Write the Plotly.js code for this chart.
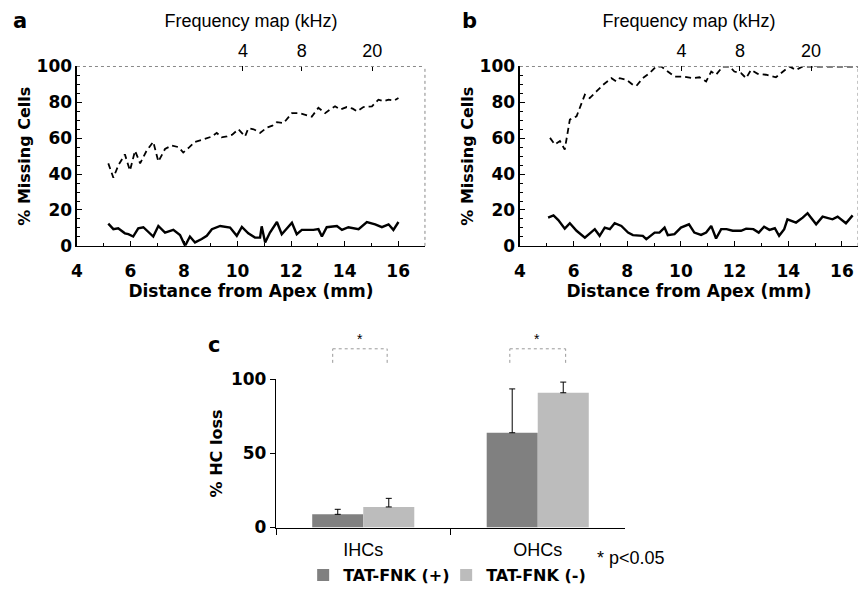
<!DOCTYPE html>
<html>
<head>
<meta charset="utf-8">
<script src="https://cdn.plot.ly/plotly-3.0.1.min.js"></script>
<style>html,body{margin:0;padding:0;background:#fff;}#chart{width:858px;height:592px;}</style>
</head>
<body>
<div id="chart"></div>
<script>
// ---- Panel a data (distance from apex, mm ; % missing cells)
const aDashX = [5.17,5.36,5.55,5.79,5.98,6.17,6.36,6.6,6.85,7.04,7.29,7.54,7.8,7.97,8.2,8.41,8.65,8.85,9.05,9.22,9.4,9.6,9.8,10.03,10.28,10.4,10.6,10.84,11.1,11.3,11.47,11.72,12.03,12.3,12.5,12.77,13.02,13.27,13.45,13.64,13.83,14.08,14.3,14.46,14.7,15.02,15.26,15.45,15.64,15.85,16.01];
const aDashY = [46,38,45,51,42,53,46,53,58,47,54,56,55,52,55,58,59,60,61,63,60.5,61,62,65,61,65.5,65,63,66,67,69,68.5,74,74,73,72,77,74,76,77.8,76,77.4,76.5,75,77.4,77.8,81.5,80.6,81.5,81,82.4];
const aSolX = [5.17,5.36,5.54,5.79,5.92,6.10,6.29,6.48,6.85,7.04,7.29,7.60,7.85,8.04,8.22,8.41,8.66,8.85,9.04,9.35,9.72,9.97,10.16,10.40,10.65,10.84,10.90,11.03,11.21,11.47,11.65,12.03,12.21,12.40,12.83,13.02,13.15,13.33,13.71,13.90,14.14,14.52,14.83,15.14,15.39,15.64,15.82,16.01];
const aSolY = [12.4,9.3,9.8,7.0,6.5,5.2,9.8,10.4,5.2,11.1,7.4,8.9,6.0,0,5.2,1.9,3.8,5.6,9.3,11.1,10.2,5.6,10.6,7.0,4.6,4.6,10.9,1.9,7.4,13.3,6.5,12.9,6.5,8.9,8.9,9.3,5.2,10.4,11.1,8.9,10.4,9.3,13.3,12.0,10.4,12,8.9,13.3];
// ---- Panel b data
const bDashX = [5.12,5.30,5.49,5.67,5.86,6.11,6.42,6.60,6.85,7.10,7.41,7.59,7.72,7.97,8.21,8.34,8.58,8.83,9.08,9.27,9.51,9.76,10.07,10.44,10.69,10.94,11.13,11.31,11.56,11.81,11.99,12.24,12.43,12.61,12.86,13.17,13.54,13.79,14.04,14.29,14.54,14.90,15.3,15.7,16.1,16.6];
const bDashY = [60.2,56.5,58.4,53.7,70.4,72.2,84.3,82.4,86.1,89.8,93.5,91.7,93.5,92.6,89.8,89.2,93.5,96.3,100,100,97.2,94.4,94.4,93.5,94,91.7,97.2,95.4,100,100,97.2,96.3,93.5,98.1,95.9,95.4,94,97.2,100,98.1,100,100,100,100,100,100];
const bSolX = [5.05,5.25,5.43,5.67,5.86,6.11,6.42,6.79,6.97,7.16,7.35,7.53,7.78,8.03,8.21,8.46,8.58,8.71,9.02,9.2,9.39,9.51,9.76,10.0,10.3,10.5,10.75,10.94,11.13,11.31,11.5,11.7,11.93,12.24,12.43,12.7,12.9,13.1,13.3,13.5,13.66,13.85,13.97,14.29,14.54,14.72,15.04,15.28,15.65,15.84,16.15,16.4];
const bSolY = [15.7,17.0,14.4,9.6,12.6,8.4,4.6,9.3,5.6,10.2,9.3,12.6,11.1,7.4,6.0,5.6,5.6,3.7,7.4,7.4,10.2,6.0,6.5,10.2,12.0,7.4,6.1,7.4,11.1,4.1,9.3,9.3,8.4,8.4,9.6,9.3,7.4,10.7,8.9,9.8,5.6,9.3,14.8,13.0,15.7,18.2,12,16.3,14.8,16.3,12.6,17];
// ---- Frequency map (top axes)
const freqLabels = ['4','8','20'];
const freqPosA = [10.2, 12.4, 15.03];
const freqPosB = [10.02, 12.2, 14.85];
// ---- Panel c data
const groups = ['IHCs','OHCs'];
const tatPlus = [8.9, 64];
const tatPlusErr = [3.4, 29.6];
const tatMinus = [13.9, 91];
const tatMinusErr = [5.8, 7.2];

const BOLDF = '"DejaVu Sans", Verdana, sans-serif';
const REGF = 'Arial, "Liberation Sans", Helvetica, sans-serif';
const bold17 = {family: BOLDF, size: 17, color: '#000', weight: 'bold'};
const bold16 = {family: BOLDF, size: 16, color: '#000', weight: 'bold'};
const reg18 = {family: REGF, size: 18, color: '#000'};

const lineSolid = {color: '#000', width: 2.4};
const lineDash = {color: '#000', width: 1.8, dash: '6px,4px'};

const traces = [
  {x: aDashX, y: aDashY, xaxis: 'x', yaxis: 'y', mode: 'lines', line: lineDash, showlegend: false},
  {x: aSolX, y: aSolY, xaxis: 'x', yaxis: 'y', mode: 'lines', line: lineSolid, showlegend: false},
  {x: bDashX, y: bDashY, xaxis: 'x2', yaxis: 'y2', mode: 'lines', line: lineDash, showlegend: false},
  {x: bSolX, y: bSolY, xaxis: 'x2', yaxis: 'y2', mode: 'lines', line: lineSolid, showlegend: false},
  // carriers for the top frequency-map axes (no visible marks)
  {x: freqPosA, y: freqLabels.map(() => null), xaxis: 'x4', yaxis: 'y', mode: 'markers', marker: {opacity: 0}, showlegend: false, hoverinfo: 'skip'},
  {x: freqPosB, y: freqLabels.map(() => null), xaxis: 'x5', yaxis: 'y2', mode: 'markers', marker: {opacity: 0}, showlegend: false, hoverinfo: 'skip'},
  {type: 'bar', name: 'TAT-FNK (+)', x: groups, y: tatPlus, xaxis: 'x3', yaxis: 'y3',
   marker: {color: '#808080', line: {width: 0}},
   error_y: {type: 'data', array: tatPlusErr, arrayminus: [0,0], symmetric: false, color: '#000', thickness: 1, width: 3}},
  {type: 'bar', name: 'TAT-FNK (-)', x: groups, y: tatMinus, xaxis: 'x3', yaxis: 'y3',
   marker: {color: '#bcbcbc', line: {width: 0}},
   error_y: {type: 'data', array: tatMinusErr, arrayminus: [0,0], symmetric: false, color: '#000', thickness: 1, width: 3}}
];

function distAxis(domain, range, anchor) {
  return {
    domain: domain, range: range, anchor: anchor, showgrid: false, zeroline: false,
    showline: true, linecolor: '#000', linewidth: 1.5,
    tickmode: 'linear', tick0: 4, dtick: 2, ticks: 'inside', ticklen: 5, tickcolor: '#000',
    minor: {dtick: 1, ticks: 'inside', ticklen: 3, tickcolor: '#000'},
    tickfont: bold17, ticklabelstandoff: 9,
    title: {text: 'Distance from Apex (mm)', font: bold17, standoff: 0}
  };
}
function pctAxis(domain, anchor) {
  return {
    domain: domain, range: [0, 100], anchor: anchor, showgrid: false, zeroline: false,
    showline: true, linecolor: '#000', linewidth: 1.5,
    tickmode: 'linear', tick0: 0, dtick: 20, ticks: 'inside', ticklen: 5, tickcolor: '#000',
    minor: {dtick: 5, ticks: 'inside', ticklen: 3, tickcolor: '#000'},
    tickfont: bold17,
    title: {text: '% Missing Cells', font: bold16, standoff: 2}
  };
}
function freqAxis(overlay, anchor, range, pos) {
  return {
    overlaying: overlay, anchor: anchor, side: 'top', range: range,
    tickmode: 'array', tickvals: pos, ticktext: freqLabels,
    ticks: 'inside', ticklen: 5, tickcolor: '#000', showline: false, showgrid: false, zeroline: false,
    tickfont: reg18, ticklabelstandoff: 5,
    title: {text: 'Frequency map (kHz)', font: reg18, standoff: 8}
  };
}
function frame(xr, yr) {
  return [
    {type: 'line', xref: xr + ' domain', yref: yr + ' domain', x0: 0, x1: 1, y0: 1, y1: 1, line: {color: '#888', width: 1, dash: 'dot'}},
    {type: 'line', xref: xr + ' domain', yref: yr + ' domain', x0: 1, x1: 1, y0: 0, y1: 1, line: {color: '#888', width: 1, dash: 'dot'}}
  ];
}
const bracketLine = {color: '#999', width: 1, dash: 'dot'};
function bracket(x0, x1) {
  return [
    {type: 'line', xref: 'x3', yref: 'paper', x0: x0, x1: x1, y0: 0.4088, y1: 0.4088, line: bracketLine},
    {type: 'line', xref: 'x3', yref: 'paper', x0: x0, x1: x0, y0: 0.385, y1: 0.4088, line: bracketLine},
    {type: 'line', xref: 'x3', yref: 'paper', x0: x1, x1: x1, y0: 0.385, y1: 0.4088, line: bracketLine}
  ];
}

const layout = {
  width: 858, height: 592,
  margin: {l: 0, r: 0, t: 0, b: 0},
  paper_bgcolor: '#fff', plot_bgcolor: 'rgba(0,0,0,0)',
  font: {family: REGF, color: '#000'},
  xaxis: distAxis([0.0897, 0.4953], [4, 17], 'y'),
  yaxis: pctAxis([0.5833, 0.8873], 'x'),
  xaxis2: distAxis([0.606, 1.0], [4, 16.6], 'y2'),
  yaxis2: pctAxis([0.5833, 0.8873], 'x2'),
  xaxis4: freqAxis('x', 'y', [4, 17], freqPosA),
  xaxis5: freqAxis('x2', 'y2', [4, 16.6], freqPosB),
  xaxis3: {
    domain: [0.3217, 0.7284], anchor: 'y3', type: 'category', showgrid: false, zeroline: false,
    showline: true, linecolor: '#000', linewidth: 1.2,
    ticks: 'outside', tickson: 'boundaries', ticklen: 6, tickcolor: '#000',
    tickfont: reg18, ticklabelstandoff: 6
  },
  yaxis3: {
    domain: [0.1059, 0.3569], anchor: 'x3', range: [0, 100], showgrid: false, zeroline: false,
    showline: true, linecolor: '#000', linewidth: 1.2,
    tickvals: [0, 50, 100], ticks: 'outside', ticklen: 5, tickcolor: '#000',
    tickfont: bold17,
    title: {text: '% HC loss', font: bold16, standoff: 4}
  },
  barmode: 'group', bargap: 0.415, bargroupgap: 0,
  showlegend: true,
  legend: {orientation: 'h', x: 0.52, xanchor: 'center', y: 0.025, yanchor: 'middle',
           font: bold16, itemwidth: 30, entrywidth: 98, entrywidthmode: 'pixels',
           bgcolor: 'rgba(0,0,0,0)'},
  shapes: [].concat(frame('x', 'y'), frame('x2', 'y2'), bracket(-0.175, 0.137), bracket(0.84, 1.16)),
  annotations: [
    {text: 'a', xref: 'paper', yref: 'paper', x: 0.013, y: 0.965, xanchor: 'left', yanchor: 'middle', showarrow: false, font: {family: BOLDF, size: 21, weight: 'bold', color: '#000'}},
    {text: 'b', xref: 'paper', yref: 'paper', x: 0.536, y: 0.965, xanchor: 'left', yanchor: 'middle', showarrow: false, font: {family: BOLDF, size: 21, weight: 'bold', color: '#000'}},
    {text: 'c', xref: 'paper', yref: 'paper', x: 0.24, y: 0.416, xanchor: 'left', yanchor: 'middle', showarrow: false, font: {family: BOLDF, size: 21, weight: 'bold', color: '#000'}},
    {text: '*', xref: 'x3', yref: 'paper', x: -0.02, y: 0.425, xanchor: 'center', yanchor: 'middle', showarrow: false, font: {family: REGF, size: 14, color: '#000'}},
    {text: '*', xref: 'x3', yref: 'paper', x: 0.995, y: 0.425, xanchor: 'center', yanchor: 'middle', showarrow: false, font: {family: REGF, size: 14, color: '#000'}},
    {text: '* p<0.05', xref: 'paper', yref: 'paper', x: 0.693, y: 0.054, xanchor: 'left', yanchor: 'middle', showarrow: false, font: reg18}
  ]
};

Plotly.newPlot('chart', traces, layout, {displayModeBar: false, staticPlot: true});
</script>
</body>
</html>
